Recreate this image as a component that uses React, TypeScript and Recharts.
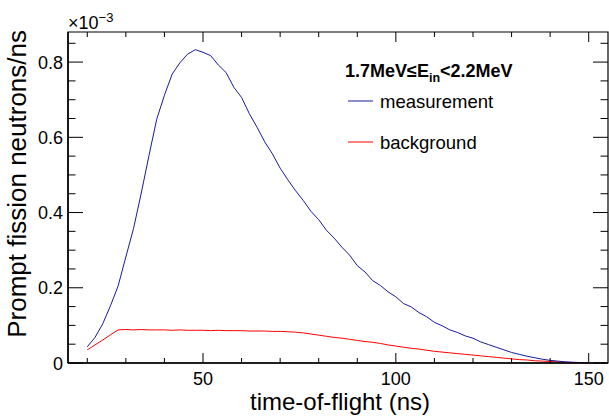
import { Line, LineChart, ReferenceArea, XAxis, YAxis } from 'recharts';

// time-of-flight bins (ns)
const tof = [
  20, 22, 24, 26, 28, 30, 32, 34, 36, 38, 40, 42, 44, 46, 48, 50, 52, 54, 56, 58,
  60, 62, 64, 66, 68, 70, 72, 74, 76, 78, 80, 82, 84, 86, 88, 90, 92, 94, 96, 98,
  100, 102, 104, 106, 108, 110, 112, 114, 116, 118, 120, 122, 124, 126, 128, 130,
  132, 134, 136, 138, 140, 142, 144, 146, 148, 150,
];

// prompt fission neutrons/ns, in units of 1e-3
const measurement = [
  0.043, 0.068, 0.104, 0.152, 0.205, 0.282, 0.358, 0.452, 0.552, 0.648, 0.712,
  0.768, 0.798, 0.821, 0.833, 0.826, 0.817, 0.792, 0.772, 0.733, 0.706, 0.663,
  0.627, 0.588, 0.556, 0.518, 0.487, 0.458, 0.432, 0.403, 0.381, 0.353, 0.332,
  0.308, 0.287, 0.259, 0.242, 0.219, 0.206, 0.189, 0.176, 0.158, 0.149, 0.134,
  0.123, 0.108, 0.099, 0.088, 0.081, 0.072, 0.066, 0.056, 0.049, 0.042, 0.035,
  0.028, 0.023, 0.018, 0.014, 0.01, 0.007, 0.005, 0.003, 0.002, 0.001, 0.0,
];

const background = [
  0.035, 0.048, 0.061, 0.075, 0.088, 0.089, 0.088, 0.089, 0.088, 0.088, 0.088,
  0.087, 0.088, 0.087, 0.087, 0.087, 0.086, 0.087, 0.086, 0.086, 0.086, 0.085,
  0.085, 0.085, 0.084, 0.084, 0.083, 0.082, 0.080, 0.077, 0.074, 0.071, 0.068,
  0.066, 0.063, 0.06, 0.057, 0.055, 0.052, 0.048, 0.045, 0.042, 0.039, 0.037,
  0.034, 0.031, 0.029, 0.027, 0.025, 0.023, 0.021, 0.019, 0.017, 0.015, 0.013,
  0.011, 0.009, 0.008, 0.006, 0.005, 0.004, 0.003, 0.002, 0.001, 0.001, 0.0,
];

const xTicks = [20, 30, 40, 50, 60, 70, 80, 90, 100, 110, 120, 130, 140, 150];
const xMajor = [50, 100, 150];
const yTicks = [
  0, 0.05, 0.1, 0.15, 0.2, 0.25, 0.3, 0.35, 0.4, 0.45, 0.5, 0.55, 0.6, 0.65,
  0.7, 0.75, 0.8, 0.85,
];
const yMajor = [0, 0.2, 0.4, 0.6, 0.8];

const data = tof.map((t, i) => ({
  tof: t,
  measurement: measurement[i],
  background: background[i],
}));

const FONT = '"Liberation Sans", Arial, sans-serif';
const PLOT_TOP = 32;
const PLOT_RIGHT = 608;
const BLUE = '#1a1a99';
const RED = '#ff0000';

const isMajor = (list: number[], v: number) =>
  list.some((m) => Math.abs(m - v) < 1e-6);

function XTick({ x, y, payload }: any) {
  const major = isMajor(xMajor, payload.value);
  const len = major ? 10 : 5;
  return (
    <g>
      <line x1={x} x2={x} y1={y} y2={y - len} stroke="#000" />
      <line x1={x} x2={x} y1={PLOT_TOP} y2={PLOT_TOP + len} stroke="#000" />
      {major && (
        <text x={x} y={y + 22} textAnchor="middle" fontSize={18} fontFamily={FONT} fill="#000">
          {payload.value}
        </text>
      )}
    </g>
  );
}

function YTick({ x, y, payload }: any) {
  const major = isMajor(yMajor, payload.value);
  const len = major ? 15 : 7.5;
  return (
    <g>
      <line x1={x} x2={x + len} y1={y} y2={y} stroke="#000" />
      <line x1={PLOT_RIGHT} x2={PLOT_RIGHT - len} y1={y} y2={y} stroke="#000" />
      {major && (
        <text x={x - 5} y={y + 6.5} textAnchor="end" fontSize={18} fontFamily={FONT} fill="#000">
          {payload.value === 0 ? '0' : payload.value.toFixed(1)}
        </text>
      )}
    </g>
  );
}

export default function App() {
  return (
    <div style={{ position: 'absolute', left: 0, top: 0, width: 609, height: 416, background: '#fff' }}>
      <LineChart
        width={609}
        height={416}
        data={data}
        margin={{ top: PLOT_TOP, right: 1, bottom: 0, left: 0 }}
      >
        <XAxis
          dataKey="tof"
          type="number"
          domain={[15, 155]}
          ticks={xTicks}
          interval={0}
          height={53}
          tickSize={0}
          tickMargin={0}
          tickLine={false}
          axisLine={{ stroke: '#000', strokeWidth: 1.5 }}
          tick={<XTick />}
        />
        <YAxis
          type="number"
          domain={[0, 0.88]}
          ticks={yTicks}
          interval={0}
          width={68}
          tickSize={0}
          tickMargin={0}
          tickLine={false}
          axisLine={{ stroke: '#000', strokeWidth: 1.5 }}
          tick={<YTick />}
        />
        <ReferenceArea
          x1={15}
          x2={155}
          y1={0}
          y2={0.88}
          fill="none"
          stroke="#000"
          strokeWidth={1.2}
          ifOverflow="visible"
        />
        <Line
          dataKey="background"
          stroke={RED}
          strokeWidth={1}
          dot={false}
          type="linear"
          isAnimationActive={false}
        />
        <Line
          dataKey="measurement"
          stroke={BLUE}
          strokeWidth={1}
          dot={false}
          type="linear"
          isAnimationActive={false}
        />
      </LineChart>
      <svg
        width={609}
        height={416}
        style={{ position: 'absolute', left: 0, top: 0, pointerEvents: 'none' }}
        fontFamily={FONT}
      >
        <text x={68} y={29} fontSize={18}>
          ×10
          <tspan dy={-7} fontSize={13}>−3</tspan>
        </text>
        <text x={340} y={410} fontSize={24} textAnchor="middle">
          time-of-flight (ns)
        </text>
        <text x={-30} y={26} fontSize={26} textAnchor="end" transform="rotate(-90)">
          Prompt fission neutrons/ns
        </text>
        <text x={345} y={77} fontSize={18} fontWeight="bold">
          1.7MeV≤E
          <tspan dy={5} fontSize={12.5}>in</tspan>
          <tspan dy={-5}>{'<2.2MeV'}</tspan>
        </text>
        <line x1={348} x2={373} y1={101} y2={101} stroke={BLUE} />
        <text x={380} y={108} fontSize={18.5}>measurement</text>
        <line x1={348} x2={373} y1={142} y2={142} stroke={RED} />
        <text x={380} y={149} fontSize={18.5}>background</text>
      </svg>
    </div>
  );
}
